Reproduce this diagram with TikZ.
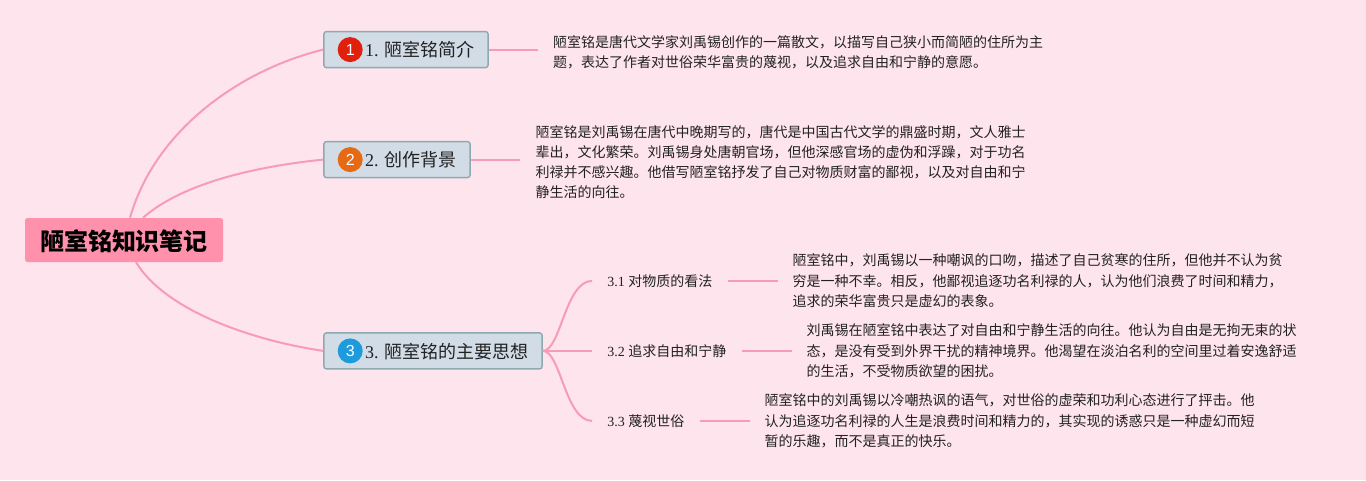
\documentclass[tikz,border=0pt]{standalone}
\usepackage{fontspec}
\setmainfont{Liberation Serif}
\setsansfont{Liberation Sans}
\newfontfamily\cjk{Noto Sans CJK SC}
\usetikzlibrary{positioning}
\definecolor{bgpink}{HTML}{FEE4EC}
\definecolor{linkpink}{HTML}{F79CB6}
\definecolor{rootpink}{HTML}{FF91AC}
\definecolor{topicfill}{HTML}{D1DCE7}
\definecolor{topicedge}{HTML}{8FAAAE}
\definecolor{inkdark}{HTML}{222222}
\definecolor{iconred}{HTML}{E0200C}
\definecolor{iconorange}{HTML}{E66A14}
\definecolor{iconblue}{HTML}{1E9BDC}
\tikzset{
  rootbox/.style={fill=rootpink,rounded corners=2.5pt,text=black,minimum width=198pt,minimum height=44pt,inner sep=0pt,text height=23pt,text depth=2pt,font=\cjk\bfseries\fontsize{24}{28}\selectfont},
  topicbox/.style={draw=topicedge,fill=topicfill,line width=1.4pt,rounded corners=2.5pt,text=inkdark,minimum height=36pt,inner xsep=13.6pt,inner ysep=0pt,text height=16pt,text depth=1.4pt,font=\cjk\fontsize{18}{22}\selectfont},
  subbox/.style={text=inkdark,inner xsep=15pt,inner ysep=2pt,font=\cjk\fontsize{14}{20}\selectfont},
  notebox/.style={text=inkdark,inner xsep=15pt,inner ysep=2pt,align=left,font=\cjk\fontsize{14}{20.3}\selectfont},
  iconball/.style={circle,text=white,minimum size=25pt,inner sep=0pt,font=\sffamily\fontsize{16}{18}\selectfont},
  link/.style={draw=linkpink,line width=2pt}
}
\begin{document}
\begin{tikzpicture}[x=1pt,y=-1pt]
\fill[bgpink] (0,0) rectangle (1366,480);
\useasboundingbox (0,0) rectangle (1366,480);
\node[rootbox] (root) at (124,240) {陋室铭知识笔记};
\node[topicbox,node distance=149.5pt and 100pt,above right=of root] (topicA) {\hspace*{27.5pt}{\rmfamily 1. }陋室铭简介};
\node[iconball,fill=iconred] (iconA) at ([xshift=27pt]topicA.west) {1};
\draw[link] ([xshift=6pt]root.north) .. controls (155,130) and (240,70) .. (topicA.west);
\node[topicbox,node distance=39.5pt and 100pt,above right=of root] (topicB) {\hspace*{27.5pt}{\rmfamily 2. }创作背景};
\node[iconball,fill=iconorange] (iconB) at ([xshift=27pt]topicB.west) {2};
\draw[link] ([xshift=19pt]root.north) .. controls (180,185) and (250,167) .. (topicB.west);
\node[topicbox,node distance=70pt and 100pt,below right=of root] (topicC) {\hspace*{27.5pt}{\rmfamily 3. }陋室铭的主要思想};
\node[iconball,fill=iconblue] (iconC) at ([xshift=27pt]topicC.west) {3};
\draw[link] ([xshift=12pt]root.south) .. controls (165,310) and (250,340) .. (topicC.west);
\node[notebox,right=49pt of topicA,yshift=-2.5pt] (noteA) {陋室铭是唐代文学家刘禹锡创作的一篇散文，以描写自己狭小而简陋的住所为主\\题，表达了作者对世俗荣华富贵的蔑视，以及追求自由和宁静的意愿。};
\draw[link] (topicA.east) -- (topicA.east -| noteA.west);
\node[notebox,right=49.5pt of topicB,yshift=-2.5pt] (noteB) {陋室铭是刘禹锡在唐代中晚期写的，唐代是中国古代文学的鼎盛时期，文人雅士\\辈出，文化繁荣。刘禹锡身处唐朝官场，但他深感官场的虚伪和浮躁，对于功名\\利禄并不感兴趣。他借写陋室铭抒发了自己对物质财富的鄙视，以及对自由和宁\\静生活的向往。};
\draw[link] (topicB.east) -- (topicB.east -| noteB.west);
\node[subbox,right=49.3pt of topicC,yshift=70pt] (subA) {{\rmfamily 3.1 }对物质的看法};
\draw[link] (topicC.east) .. controls +(18,0) and +(-27,0) .. (subA.west);
\node[subbox,right=49.3pt of topicC] (subB) {{\rmfamily 3.2 }追求自由和宁静};
\draw[link] (topicC.east) -- (subB.west);
\node[subbox,right=49.3pt of topicC,yshift=-70pt] (subC) {{\rmfamily 3.3 }蔑视世俗};
\draw[link] (topicC.east) .. controls +(18,0) and +(-27,0) .. (subC.west);
\node[notebox,right=50pt of subA] (noteC) {陋室铭中，刘禹锡以一种嘲讽的口吻，描述了自己贫寒的住所，但他并不认为贫\\穷是一种不幸。相反，他鄙视追逐功名利禄的人，认为他们浪费了时间和精力，\\追求的荣华富贵只是虚幻的表象。};
\draw[link] (subA) -- (noteC);
\node[notebox,right=50pt of subB] (noteD) {刘禹锡在陋室铭中表达了对自由和宁静生活的向往。他认为自由是无拘无束的状\\态，是没有受到外界干扰的精神境界。他渴望在淡泊名利的空间里过着安逸舒适\\的生活，不受物质欲望的困扰。};
\draw[link] (subB) -- (noteD);
\node[notebox,right=50pt of subC] (noteE) {陋室铭中的刘禹锡以冷嘲热讽的语气，对世俗的虚荣和功利心态进行了抨击。他\\认为追逐功名利禄的人生是浪费时间和精力的，其实现的诱惑只是一种虚幻而短\\暂的乐趣，而不是真正的快乐。};
\draw[link] (subC) -- (noteE);
\end{tikzpicture}
\end{document}
